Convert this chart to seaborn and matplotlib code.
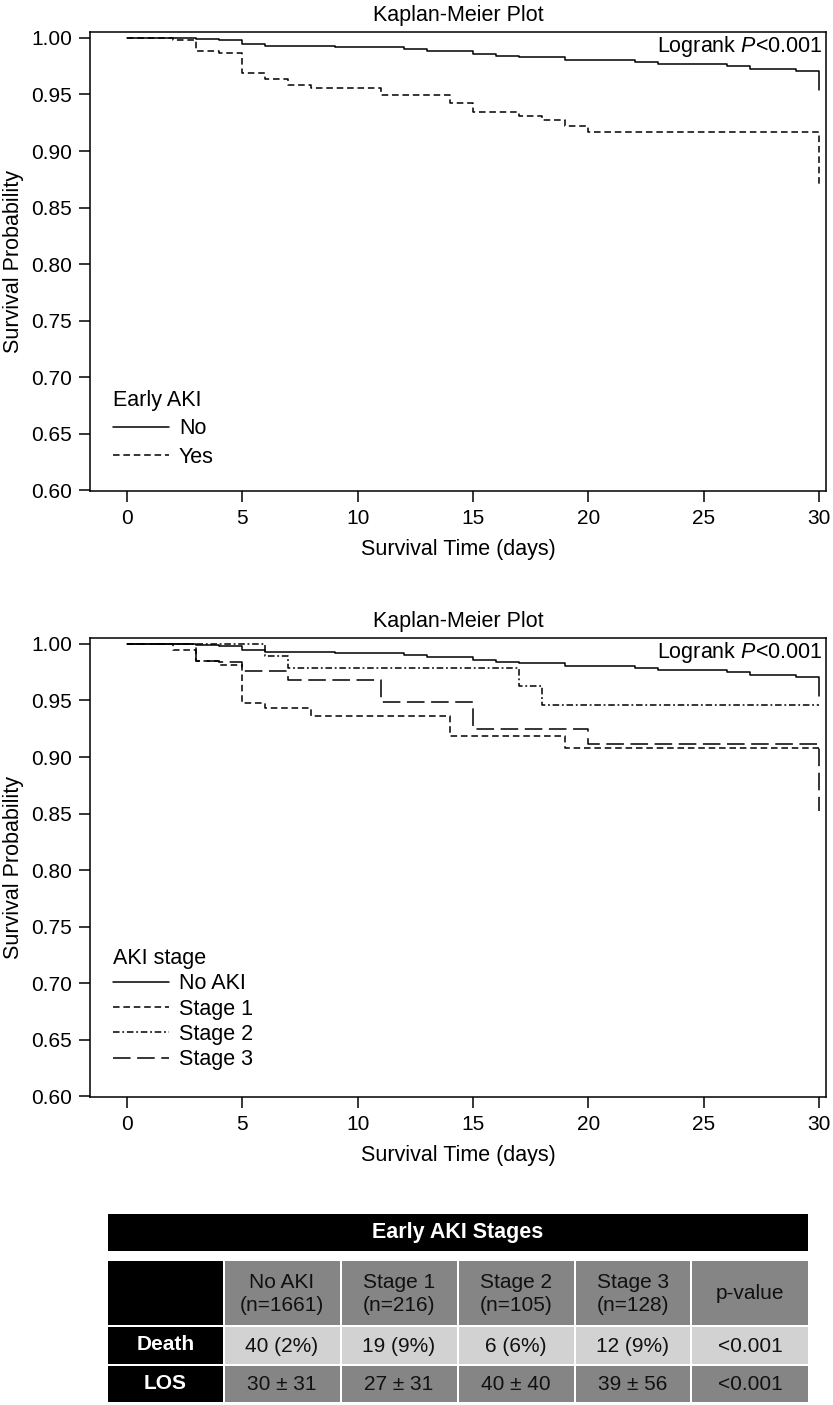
import matplotlib
matplotlib.use('Agg')
import matplotlib.pyplot as plt
from matplotlib.patches import Rectangle
import pandas as pd
import seaborn as sns

# Kaplan-Meier steps (day, survival)
days_no_aki = [0, 3, 4, 5, 6, 9, 12, 13, 15, 16, 17, 19, 22, 23, 26, 27, 29, 30]
surv_no_aki = [1.0, 0.999, 0.9978, 0.9945, 0.993, 0.992, 0.9906, 0.9885, 0.9856, 0.9838,
               0.9829, 0.9809, 0.9788, 0.9773, 0.9756, 0.9726, 0.9704, 0.9538]

days_yes = [0, 2, 3, 4, 5, 6, 7, 8, 11, 14, 15, 17, 18, 19, 20, 30]
surv_yes = [1.0, 0.9978, 0.9887, 0.9867, 0.9688, 0.9635, 0.9585, 0.9557, 0.9493, 0.9426,
            0.9346, 0.9308, 0.9273, 0.922, 0.917, 0.869]

days_stage1 = [0, 2, 3, 4, 5, 6, 8, 14, 19, 30]
surv_stage1 = [1.0, 0.9948, 0.985, 0.981, 0.9477, 0.9433, 0.936, 0.919, 0.908, 0.908]

days_stage2 = [0, 6, 7, 17, 18, 30]
surv_stage2 = [1.0, 0.9897, 0.9786, 0.963, 0.9463, 0.9463]

days_stage3 = [0, 3, 4, 5, 7, 11, 15, 20, 30]
surv_stage3 = [1.0, 0.985, 0.9836, 0.9765, 0.9683, 0.9483, 0.9248, 0.9116, 0.852]

# table
table_title = 'Early AKI Stages'
col_labels = ['No AKI\n(n=1661)', 'Stage 1\n(n=216)', 'Stage 2\n(n=105)', 'Stage 3\n(n=128)', 'p-value']
row_labels = ['Death', 'LOS']
death_vals = ['40 (2%)', '19 (9%)', '6 (6%)', '12 (9%)', '<0.001']
los_vals = ['30 ± 31', '27 ± 31', '40 ± 40', '39 ± 56', '<0.001']

sns.set_style('ticks')
plt.rcParams['font.family'] = ['Liberation Sans', 'DejaVu Sans']
plt.rcParams['mathtext.fontset'] = 'custom'
plt.rcParams['mathtext.rm'] = 'Liberation Sans'
plt.rcParams['mathtext.it'] = 'Liberation Sans:italic'
for key in ['text.color', 'axes.labelcolor', 'xtick.color', 'ytick.color', 'axes.edgecolor']:
    plt.rcParams[key] = 'black'

W, H = 833, 1405
fig = plt.figure(figsize=(W / 100, H / 100), dpi=100)


def px_axes(x0, y0, x1, y1):
    return fig.add_axes([x0 / W, 1 - y1 / H, (x1 - x0) / W, (y1 - y0) / H])


def km_panel(ax, df, group_col, order, dashes, labelspacing, leg_y):
    sns.lineplot(data=df, x='day', y='surv', style=group_col, style_order=order,
                 dashes=dashes, color='black', lw=1.1, estimator=None,
                 drawstyle='steps-post', legend=False, ax=ax)
    ax.set_xlim(-1.6, 30.3)
    ax.set_ylim(0.5995, 1.0055)
    ax.set_xticks([0, 5, 10, 15, 20, 25, 30])
    ax.set_yticks([0.60, 0.65, 0.70, 0.75, 0.80, 0.85, 0.90, 0.95, 1.00])
    ax.set_yticklabels([f'{v:.2f}' for v in ax.get_yticks()])
    ax.tick_params(labelsize=15, length=8, width=1.1, pad=5)
    for s in ax.spines.values():
        s.set_linewidth(1.1)
    ax.set_xlabel('Survival Time (days)', fontsize=15.5, labelpad=8)
    ax.set_ylabel('Survival Probability', fontsize=15.5, labelpad=5)
    ax.set_title('Kaplan-Meier Plot', fontsize=15.5, pad=7.5)
    ax.text(0.995, 0.995, 'Logrank $\\mathit{P}$<0.001', transform=ax.transAxes,
            ha='right', va='top', fontsize=15.5)
    ax.legend(ax.get_lines()[:len(order)], order, title=group_col, loc='lower left',
              bbox_to_anchor=(0.008, leg_y), frameon=False, fontsize=15.5, title_fontsize=15.5,
              alignment='left', handlelength=2.6, handletextpad=0.45,
              labelspacing=labelspacing, borderpad=0.3)


short_dash = (4.3, 2.5)

# top panel
df_top = pd.DataFrame({
    'day': days_no_aki + days_yes,
    'surv': surv_no_aki + surv_yes,
    'Early AKI': ['No'] * len(days_no_aki) + ['Yes'] * len(days_yes),
})
ax1 = px_axes(90, 31.7, 826, 491)
km_panel(ax1, df_top, 'Early AKI', ['No', 'Yes'], {'No': '', 'Yes': short_dash}, 0.35, 0.013)

# bottom panel
df_bot = pd.DataFrame({
    'day': days_no_aki + days_stage1 + days_stage2 + days_stage3,
    'surv': surv_no_aki + surv_stage1 + surv_stage2 + surv_stage3,
    'AKI stage': (['No AKI'] * len(days_no_aki) + ['Stage 1'] * len(days_stage1)
                  + ['Stage 2'] * len(days_stage2) + ['Stage 3'] * len(days_stage3)),
})
ax2 = px_axes(90, 637.7, 826, 1097)
km_panel(ax2, df_bot, 'AKI stage', ['No AKI', 'Stage 1', 'Stage 2', 'Stage 3'],
         {'No AKI': '', 'Stage 1': short_dash, 'Stage 2': (4.3, 1.8, 1.2, 1.8),
          'Stage 3': (11.5, 4.3)}, 0.2, 0.021)

# summary table drawn in pixel coordinates
axt = px_axes(108, 1214, 808, 1403)
axt.set_xlim(108, 808)
axt.set_ylim(1403, 1214)
axt.axis('off')

col_edges = [(108, 222.5), (224.5, 339.5), (341.5, 456.5), (458.5, 573.5), (575.5, 690), (692, 808)]
row_edges = [(1261, 1324.5), (1326.5, 1363.5), (1365.5, 1402)]
dark_gray = '#858585'
light_gray = '#d2d2d2'

axt.add_patch(Rectangle((108, 1214), 700, 36.5, color='black', lw=0))
axt.text(458, 1232.5, table_title, color='white', fontweight='bold', fontsize=15.5,
         ha='center', va='center')

row_text = [col_labels, death_vals, los_vals]
row_fill = [dark_gray, light_gray, dark_gray]
for r, (y0, y1) in enumerate(row_edges):
    x0, x1 = col_edges[0]
    axt.add_patch(Rectangle((x0, y0), x1 - x0, y1 - y0, color='black', lw=0))
    if r > 0:
        axt.text((x0 + x1) / 2, (y0 + y1) / 2, row_labels[r - 1], color='white',
                 fontweight='bold', fontsize=15, ha='center', va='center')
    for c, (x0, x1) in enumerate(col_edges[1:]):
        axt.add_patch(Rectangle((x0, y0), x1 - x0, y1 - y0, color=row_fill[r], lw=0))
        axt.text((x0 + x1) / 2, (y0 + y1) / 2 + 1, row_text[r][c], color='#111111',
                 fontsize=15, ha='center', va='center', linespacing=1.25)

fig.savefig('out.png', dpi=100)
